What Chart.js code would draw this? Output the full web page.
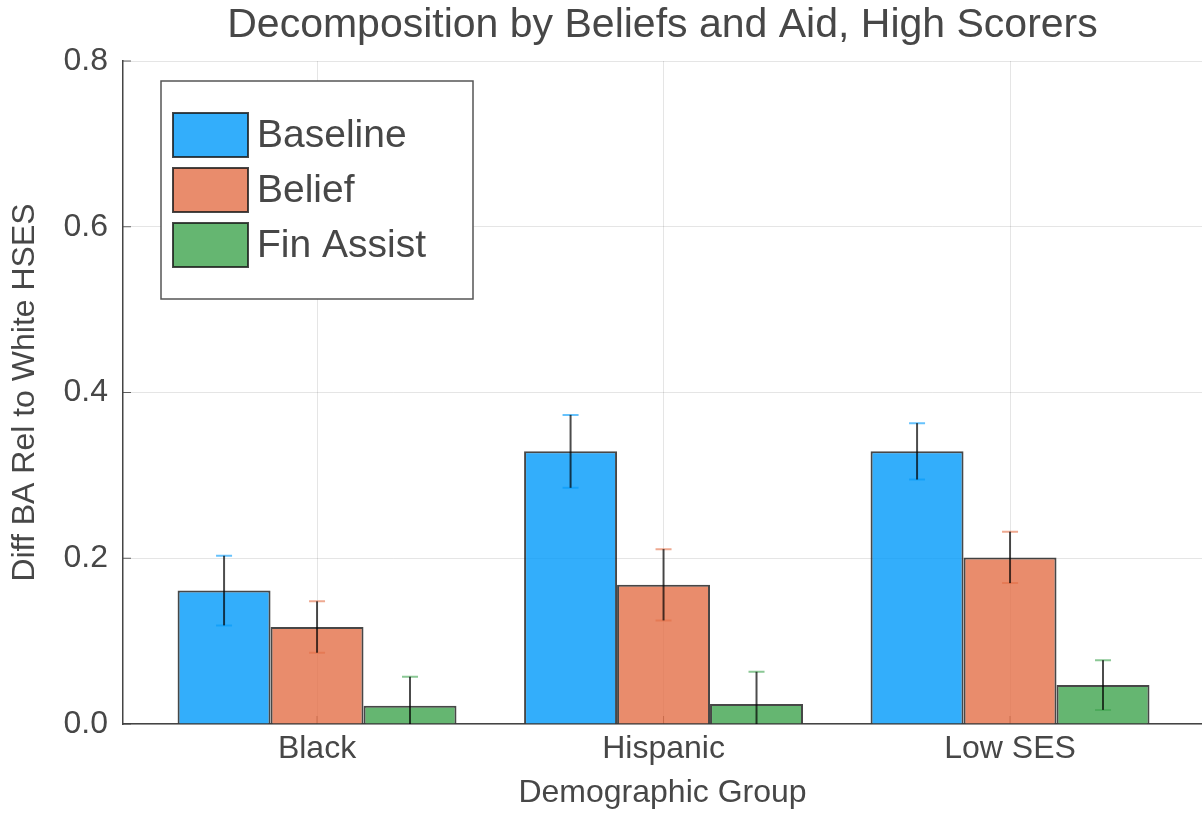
<!DOCTYPE html>
<html><head><meta charset="utf-8">
<script src="https://cdn.jsdelivr.net/npm/chart.js@4.4.1/dist/chart.umd.min.js"></script>
<style>html,body{margin:0;padding:0;background:#fff}#wrap{width:1202px;height:817px}</style>
</head><body><div id="wrap"><canvas id="c" width="1202" height="817"></canvas></div>
<script>
const categories = ['Black', 'Hispanic', 'Low SES'];
const seriesNames = ['Baseline', 'Belief', 'Fin Assist'];
const baseline = [0.161, 0.329, 0.329];
const belief = [0.117, 0.168, 0.201];
const finAssist = [0.022, 0.024, 0.047];
const baselineErr = [0.042, 0.044, 0.034];
const beliefErr = [0.031, 0.043, 0.031];
const finAssistErr = [0.035, 0.039, 0.030];
const yTicks = [0, 0.2, 0.4, 0.6, 0.8];
const chartTitle = 'Decomposition by Beliefs and Aid, High Scorers';
const xTitle = 'Demographic Group';
const yTitle = 'Diff BA Rel to White HSES';

const FONT = "'Liberation Sans', Arial, Helvetica, sans-serif";
const TXT = '#474747';
const fills = ['rgba(0,154,250,0.8)', 'rgba(227,111,71,0.8)', 'rgba(62,164,78,0.8)'];
const caps = ['rgba(0,154,250,0.6)', 'rgba(227,111,71,0.6)', 'rgba(62,164,78,0.6)'];
const seriesValues = [baseline, belief, finAssist];
const seriesErrs = [baselineErr, beliefErr, finAssistErr];

const datasets = seriesNames.map((name, k) => ({
  label: name,
  data: seriesValues[k].map((v, i) => ({x: i + 1, y: v})),
  errors: seriesErrs[k],
  capColor: caps[k],
  backgroundColor: fills[k],
  borderColor: 'rgba(25,25,25,0.8)',
  borderWidth: 2,
  categoryPercentage: 0.805,
  barPercentage: 1.0
}));

const innerTicks = {
  id: 'innerTicks',
  beforeDatasetsDraw(chart) {
    const {ctx, chartArea: a, scales} = chart;
    ctx.save();
    ctx.strokeStyle = 'rgba(60,60,60,0.8)';
    ctx.lineWidth = 1;
    scales.y.ticks.forEach(t => {
      const y = scales.y.getPixelForValue(t.value);
      ctx.beginPath(); ctx.moveTo(a.left, y); ctx.lineTo(a.left + 8, y); ctx.stroke();
    });
    scales.x.ticks.forEach(t => {
      const x = scales.x.getPixelForValue(t.value);
      ctx.beginPath(); ctx.moveTo(x, a.bottom); ctx.lineTo(x, a.bottom - 8); ctx.stroke();
    });
    ctx.restore();
  }
};

const errorBars = {
  id: 'errorBars',
  afterDatasetsDraw(chart) {
    const {ctx, chartArea: a} = chart;
    const ys = chart.scales.y;
    ctx.save();
    ctx.beginPath(); ctx.rect(a.left, a.top, a.right - a.left, a.bottom - a.top); ctx.clip();
    chart.data.datasets.forEach((ds, i) => {
      const meta = chart.getDatasetMeta(i);
      meta.data.forEach((bar, j) => {
        const v = ds.data[j].y, e = ds.errors[j];
        const yt = ys.getPixelForValue(v + e), yb = ys.getPixelForValue(v - e);
        const x = bar.x;
        ctx.strokeStyle = ds.capColor; ctx.lineWidth = 2;
        ctx.beginPath();
        ctx.moveTo(x - 8, yt); ctx.lineTo(x + 8, yt);
        ctx.moveTo(x - 8, yb); ctx.lineTo(x + 8, yb);
        ctx.stroke();
        ctx.strokeStyle = 'rgba(0,0,0,0.7)'; ctx.lineWidth = 2;
        ctx.beginPath(); ctx.moveTo(x, yt); ctx.lineTo(x, yb); ctx.stroke();
      });
    });
    ctx.restore();
  }
};

const boxLegend = {
  id: 'boxLegend',
  afterDraw(chart) {
    const {ctx, chartArea: a} = chart;
    const bx = a.left + 38, by = a.top + 20, bw = 312, bh = 218;
    ctx.save();
    ctx.fillStyle = '#ffffff';
    ctx.fillRect(bx, by, bw, bh);
    ctx.strokeStyle = '#555555'; ctx.lineWidth = 1.5;
    ctx.strokeRect(bx, by, bw, bh);
    chart.data.datasets.forEach((ds, i) => {
      const sy = by + 32 + i * 55;
      ctx.fillStyle = ds.backgroundColor;
      ctx.fillRect(bx + 12, sy, 75, 44);
      ctx.strokeStyle = ds.borderColor; ctx.lineWidth = 2;
      ctx.strokeRect(bx + 12, sy, 75, 44);
      ctx.fillStyle = TXT;
      ctx.font = '39px ' + FONT;
      ctx.textBaseline = 'middle';
      ctx.textAlign = 'left';
      ctx.fillText(ds.label, bx + 96, sy + 23);
    });
    ctx.restore();
  }
};

new Chart(document.getElementById('c'), {
  type: 'bar',
  data: {datasets},
  plugins: [innerTicks, errorBars, boxLegend],
  options: {
    responsive: false,
    animation: false,
    devicePixelRatio: 1,
    layout: {padding: 0},
    plugins: {legend: {display: false}, title: {display: false}, tooltip: {enabled: false}},
    scales: {
      x: {
        type: 'linear', min: 0.44, max: 3.554, offset: false,
        afterBuildTicks: s => { s.ticks = categories.map((c, i) => ({value: i + 1})); },
        ticks: {callback: v => categories[v - 1], font: {family: FONT, size: 32}, color: TXT, padding: 6, autoSkip: false, maxRotation: 0},
        grid: {color: 'rgba(0,0,0,0.1)', lineWidth: 1, drawTicks: false, offset: false},
        border: {color: '#444444', width: 1.5},
        title: {display: true, text: xTitle, font: {family: FONT, size: 32}, color: TXT, padding: {top: 0, bottom: 5}},
        afterFit: s => { s.height = 93; }
      },
      y: {
        min: 0, max: 0.8,
        afterBuildTicks: s => { s.ticks = yTicks.map(v => ({value: v})); },
        ticks: {callback: v => v.toFixed(1), font: {family: FONT, size: 32}, color: TXT, padding: 15},
        grid: {color: 'rgba(0,0,0,0.1)', lineWidth: 1, drawTicks: false},
        border: {color: '#444444', width: 1.5},
        title: {display: true, text: yTitle, font: {family: FONT, size: 32}, color: TXT, padding: {top: 6, bottom: 0}},
        afterFit: s => { s.width = 123; }
      },
      x2: {
        type: 'linear', position: 'top', min: 0, max: 1,
        ticks: {display: false},
        grid: {display: false, drawTicks: false},
        border: {display: false},
        title: {display: true, text: chartTitle, font: {family: FONT, size: 41}, color: TXT, padding: {top: 1, bottom: 0}},
        afterFit: s => { s.height = 61; }
      }
    }
  }
});
</script>
</body></html>
